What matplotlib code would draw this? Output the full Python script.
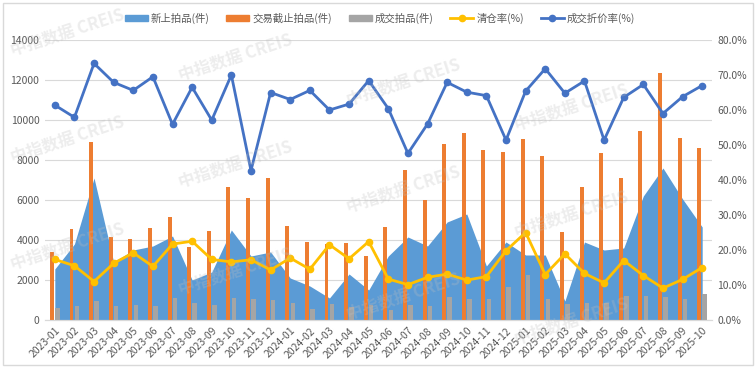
import matplotlib.pyplot as plt
import matplotlib.patches as mpatches
from matplotlib.lines import Line2D
import numpy as np

plt.rcParams['font.family'] = ['Noto Sans CJK SC', 'DejaVu Sans']

# 月份
months = ['2023-01', '2023-02', '2023-03', '2023-04', '2023-05', '2023-06',
          '2023-07', '2023-08', '2023-09', '2023-10', '2023-11', '2023-12',
          '2024-01', '2024-02', '2024-03', '2024-04', '2024-05', '2024-06',
          '2024-07', '2024-08', '2024-09', '2024-10', '2024-11', '2024-12',
          '2025-01', '2025-02', '2025-03', '2025-04', '2025-05', '2025-06',
          '2025-07', '2025-08', '2025-09', '2025-10']

# 新上拍品(件)
new_listed = [2550, 3800, 7100, 2900, 3500, 3700, 4200, 2000, 2400, 4500,
              3200, 3400, 2100, 1700, 1100, 2300, 1500, 3200, 4150, 3700,
              4900, 5300, 2700, 3900, 3250, 3250, 950, 3900, 3500, 3600,
              6200, 7600, 6050, 4650]

# 交易截止拍品(件)
deadline = [3380, 4550, 8900, 4130, 4070, 4580, 5170, 3650, 4470, 6630,
            6100, 7120, 4720, 3880, 3780, 3830, 3220, 4630, 7500, 6000,
            8800, 9370, 8500, 8420, 9030, 8220, 4380, 6670, 8370, 7080,
            9470, 12370, 9120, 8620]

# 成交拍品(件)
sold = [600, 700, 970, 680, 770, 700, 1120, 830, 770, 1100,
        1070, 1000, 830, 570, 800, 670, 730, 500, 750, 720,
        1130, 1070, 1070, 1670, 2270, 1070, 820, 870, 870, 1200,
        1200, 1130, 1030, 1300]

# 清仓率(%)
clear_rate = [17.3, 15.5, 11.0, 16.2, 19.2, 15.3, 21.7, 22.5, 17.3, 16.6,
              17.2, 14.3, 17.7, 14.5, 21.5, 17.5, 22.4, 11.7, 10.1, 12.2,
              13.1, 11.4, 12.4, 19.8, 25.0, 13.0, 18.9, 13.3, 10.6, 17.0,
              12.7, 9.1, 11.6, 15.0]

# 成交折价率(%)
discount_rate = [61.4, 57.9, 73.3, 67.9, 65.6, 69.5, 55.9, 66.5, 57.1, 70.0,
                 42.7, 65.0, 63.0, 65.6, 60.0, 61.7, 68.4, 60.4, 47.6, 56.0,
                 67.9, 65.1, 64.1, 51.4, 65.4, 71.8, 64.8, 68.3, 51.4, 63.6,
                 67.3, 59.0, 63.8, 67.0]

c_area = '#5B9BD5'
c_orange = '#ED7D31'
c_gray = '#A5A5A5'
c_yellow = '#FFC000'
c_blue = '#4472C4'
c_text = '#595959'

x = np.arange(len(months))

fig = plt.figure(figsize=(7.56, 3.68), dpi=100)
ax = fig.add_axes([45 / 756, 1 - 320 / 368, (712 - 45) / 756, 280 / 368])
ax2 = ax.twinx()

ax.fill_between(x, new_listed, 0, color=c_area, linewidth=0, zorder=2)
ax.bar(x - 0.15, deadline, width=0.2, color=c_orange, zorder=3)
ax.bar(x + 0.13, sold, width=0.23, color=c_gray, zorder=3)

ax2.plot(x, clear_rate, color=c_yellow, lw=2, marker='o', ms=4.5, zorder=4)
ax2.plot(x, discount_rate, color=c_blue, lw=2, marker='o', ms=4.5, zorder=5)

ax.set_xlim(-0.5, len(months) - 0.5)
ax.set_ylim(0, 14000)
ax.set_yticks(range(0, 14001, 2000))
ax2.set_ylim(0, 80)
ax2.set_yticks(range(0, 81, 10))
ax2.set_yticklabels([f'{v:.1f}%' for v in range(0, 81, 10)])

ax.grid(axis='y', color='#D9D9D9', lw=0.8, zorder=0)
ax.set_axisbelow(True)
ax.set_xticks(x)
ax.set_xticklabels(months, rotation=45, ha='right', va='top',
                   rotation_mode='anchor', fontsize=7, color=c_text)
ax.tick_params(axis='both', length=0, pad=4, labelsize=7.5, labelcolor=c_text)
ax2.tick_params(axis='y', length=0, pad=4, labelsize=7.5, labelcolor=c_text)
for a in (ax, ax2):
    for s in ('top', 'left', 'right'):
        a.spines[s].set_visible(False)
    a.spines['bottom'].set_color('#D9D9D9')

handles = [
    mpatches.Patch(color=c_area, label='新上拍品(件)'),
    mpatches.Patch(color=c_orange, label='交易截止拍品(件)'),
    mpatches.Patch(color=c_gray, label='成交拍品(件)'),
    Line2D([], [], color=c_yellow, lw=2, marker='o', ms=4.5, label='清仓率(%)'),
    Line2D([], [], color=c_blue, lw=2, marker='o', ms=4.5, label='成交折价率(%)'),
]
leg = fig.legend(handles=handles, loc='center', bbox_to_anchor=(380 / 756, 1 - 18 / 368),
                 ncol=5, frameon=False, fontsize=7.5, handlelength=2.2,
                 handleheight=0.5, columnspacing=1.6, handletextpad=0.3)
for t in leg.get_texts():
    t.set_color(c_text)

# 水印
for col in range(5):
    for row in range(-1, 4):
        wx = 67 + col * 168
        wy = 32 + row * 107 + col * 25
        if wy < 25 or wy > 340 or wx > 700:
            continue
        fig.text(wx / 756, 1 - wy / 368, '中指数据 CREIS', fontsize=12,
                 fontweight='bold', color='#BFBFBF', alpha=0.28,
                 rotation=18, ha='center', va='center', zorder=10)

fig.patches.append(mpatches.Rectangle((3 / 756, 3 / 368), 750 / 756, 362 / 368,
                                      transform=fig.transFigure, fill=False,
                                      edgecolor='#D9D9D9', lw=1))

fig.savefig('out.png', dpi=100)
